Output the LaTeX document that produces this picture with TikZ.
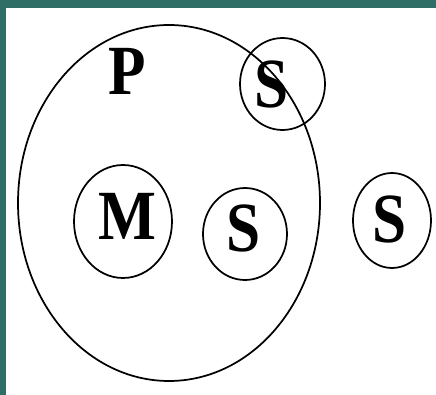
\documentclass[tikz,border=0pt]{standalone}
\usepackage{fontspec}
\setmainfont{Liberation Serif}
\usepackage{graphicx}
\usetikzlibrary{shapes.geometric}
\definecolor{border}{HTML}{2F6E66}
\newcommand{\tallchar}[1]{\scalebox{1}[1.15]{#1}}

\begin{document}
\begin{tikzpicture}[x=0.75pt,y=0.75pt,
  set/.style={draw,ellipse,line width=1.3pt,inner sep=0pt},
  letter/.style={font=\fontsize{46}{46}\selectfont\bfseries,inner sep=0pt}
]
\useasboundingbox (0,0) rectangle (436,-395);
\fill[border] (0,0) rectangle (436,-395);
\fill[white] (6,-8) rectangle (436,-395);
% sets
\node[set,minimum width=302*0.75pt,minimum height=356*0.75pt] (setP) at (169,-203) {};
\node[set,minimum width=85*0.75pt,minimum height=92*0.75pt] (setS1) at (282.5,-84) {};
\node[set,minimum width=98*0.75pt,minimum height=113*0.75pt] (setM) at (123,-221.5) {};
\node[set,minimum width=84*0.75pt,minimum height=92*0.75pt] (setS2) at (245,-234) {};
\node[set,minimum width=78*0.75pt,minimum height=95*0.75pt] (setS3) at (392,-220.5) {};
% letters
\node[letter] (labP) at (127.5,-71.5) {\tallchar{P}};
\node[letter] (labS1) at (271.5,-84) {\tallchar{S}};
\node[letter] (labM) at (127,-216.5) {\tallchar{M}};
\node[letter] (labS2) at (243.5,-228) {\tallchar{S}};
\node[letter] (labS3) at (390,-219.5) {\tallchar{S}};
\end{tikzpicture}
\end{document}
